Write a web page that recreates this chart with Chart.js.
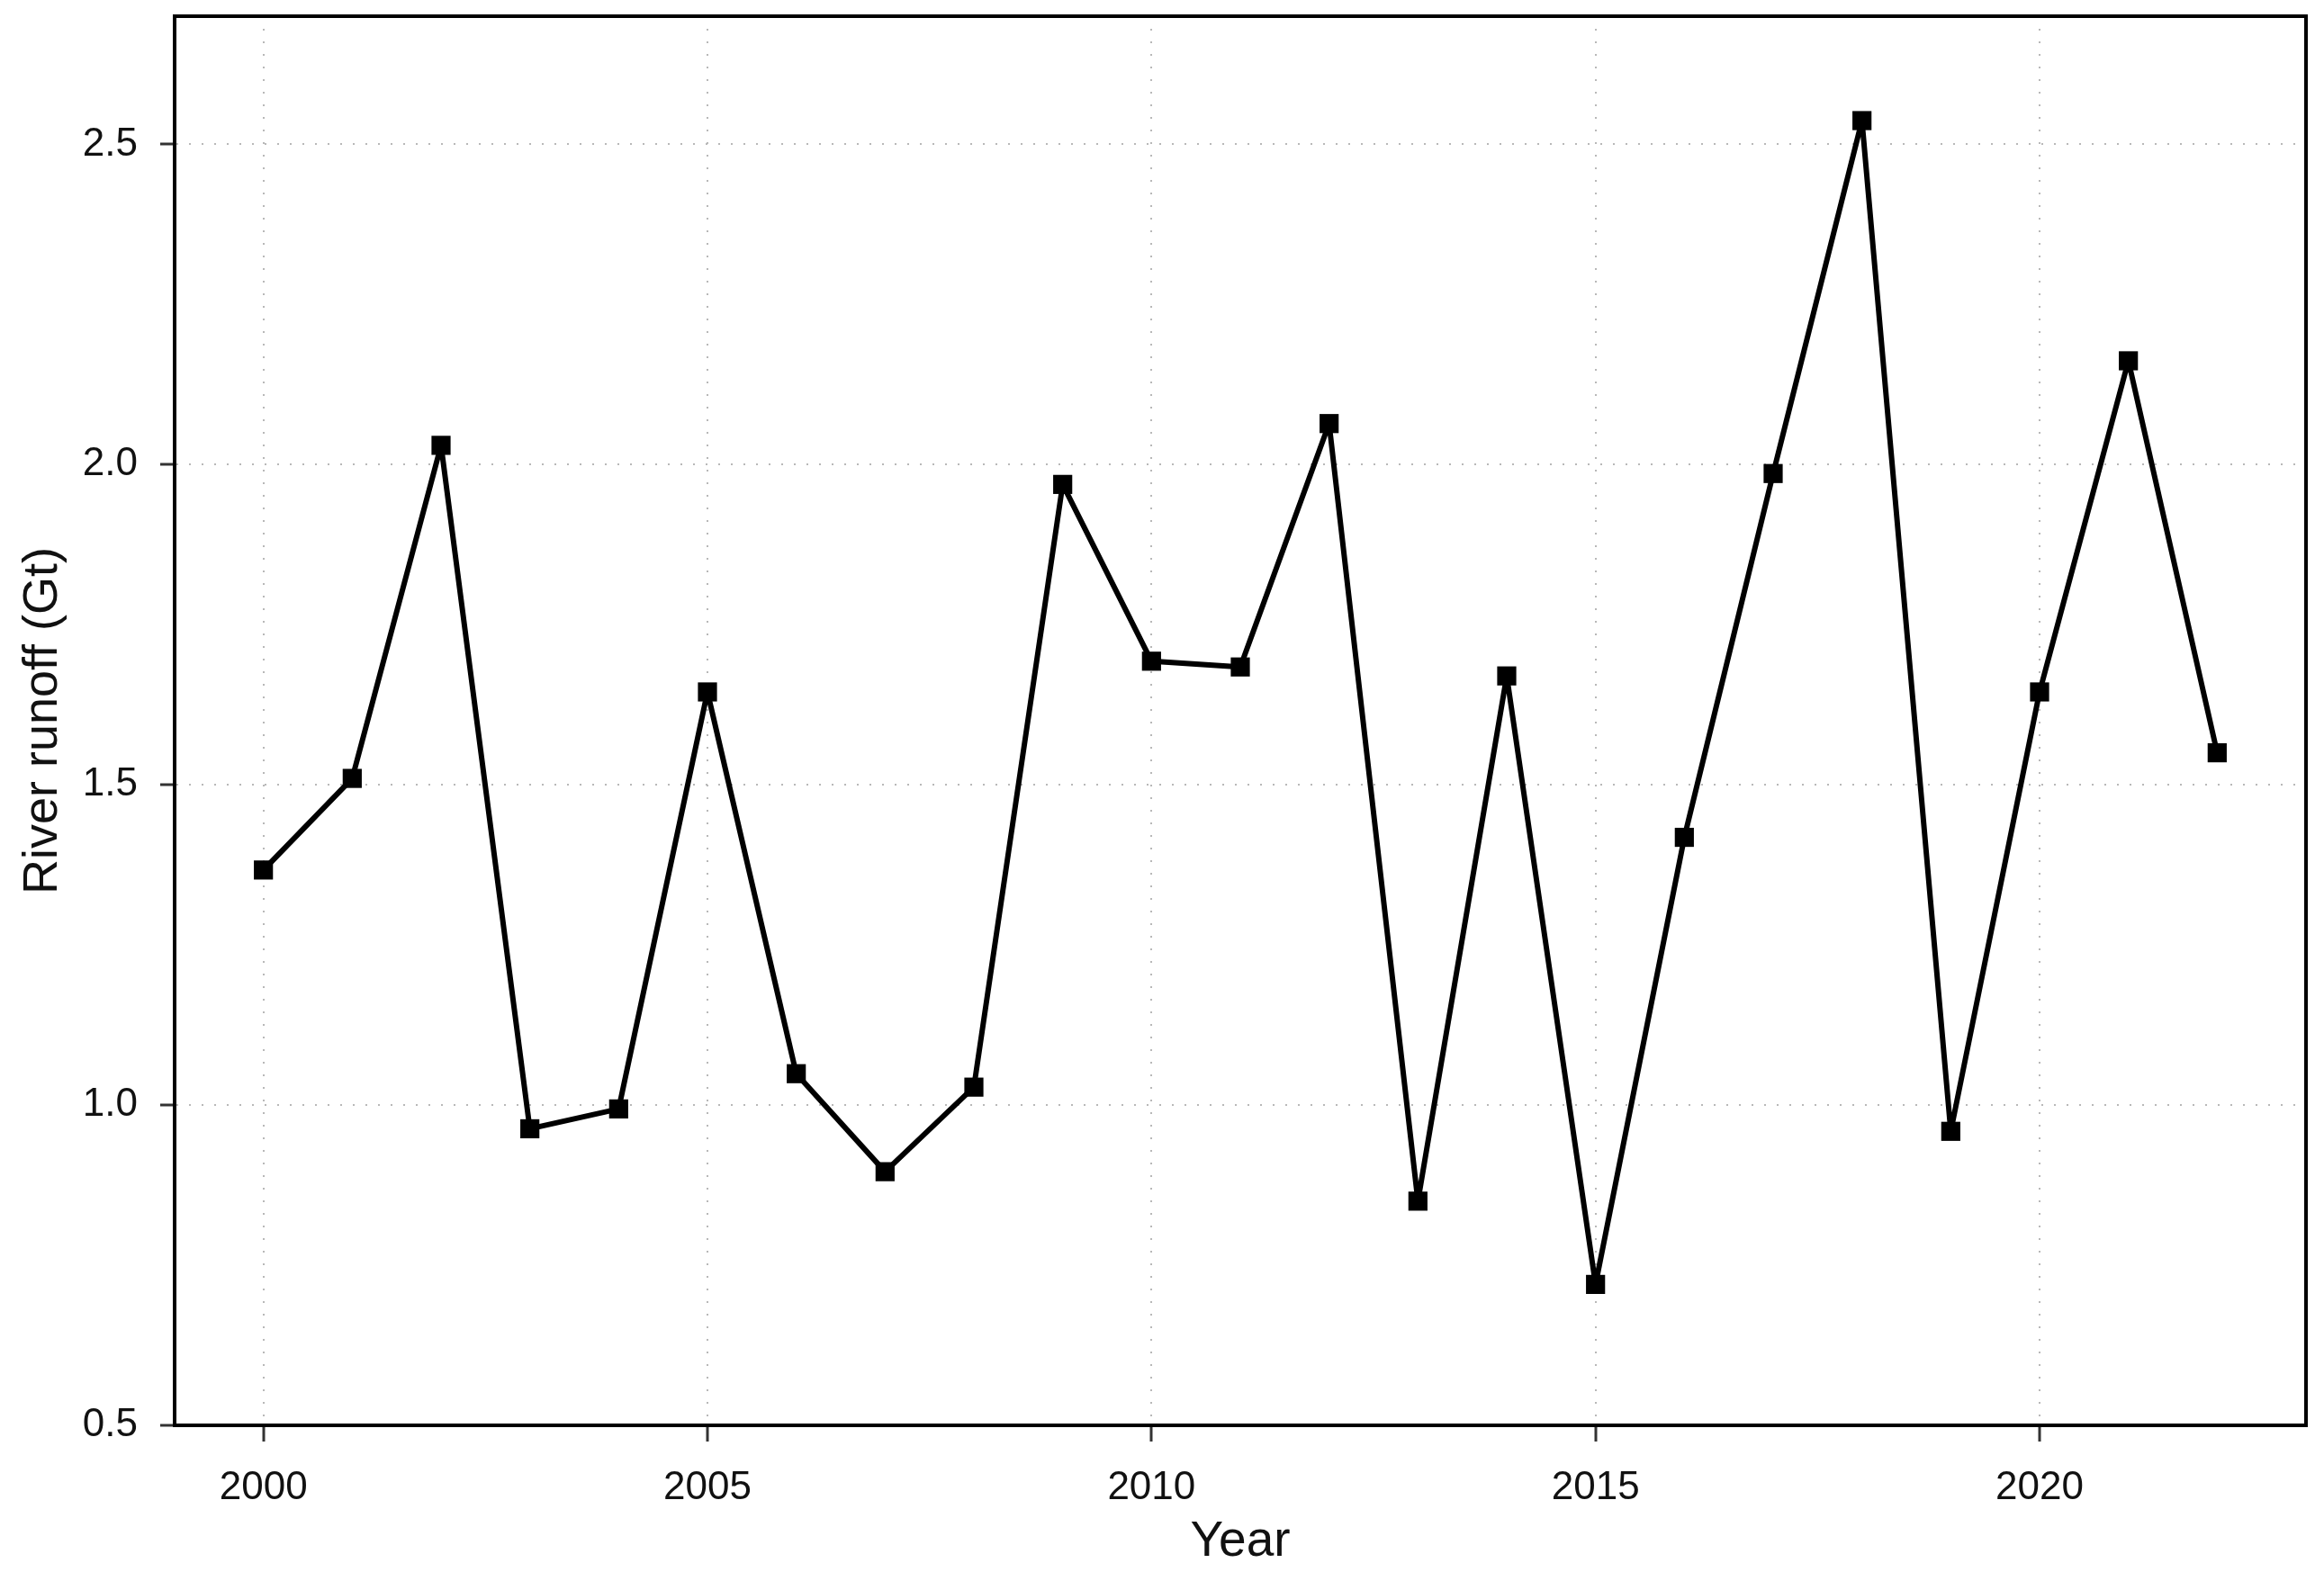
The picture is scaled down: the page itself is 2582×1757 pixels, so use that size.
<!DOCTYPE html>
<html>
<head>
<meta charset="utf-8">
<script src="https://cdn.jsdelivr.net/npm/chart.js@4/dist/chart.umd.min.js"></script>
<style>
  html, body { margin: 0; padding: 0; background: #fff; }
  #wrap { width: 2582px; height: 1757px; }
</style>
</head>
<body>
<div id="wrap"><canvas id="line-chart"></canvas></div>
<script>
// data
const years = [2000,2001,2002,2003,2004,2005,2006,2007,2008,2009,2010,2011,2012,2013,2014,2015,2016,2017,2018,2019,2020,2021,2022];
const runoff = [1.367,1.510,2.030,0.963,0.994,1.645,1.049,0.896,1.028,1.969,1.693,1.684,2.064,0.850,1.670,0.720,1.418,1.986,2.537,0.959,1.645,2.162,1.550];
const xTicks = [2000,2005,2010,2015,2020];
const yTicks = [0.5,1.0,1.5,2.0,2.5];

// box around the plot area
const frame = {
  id: 'frame',
  afterDraw(chart) {
    const a = chart.chartArea, ctx = chart.ctx;
    ctx.save();
    ctx.strokeStyle = '#000';
    ctx.lineWidth = 4;
    ctx.strokeRect(a.left, a.top, a.right - a.left, a.bottom - a.top);
    ctx.restore();
  }
};

const font = 'Liberation Sans';

new Chart(document.getElementById("line-chart"), {
  type: 'scatter',
  data: {
    datasets: [{
      data: years.map((y, i) => ({x: y, y: runoff[i]})),
      showLine: true,
      borderColor: '#000',
      backgroundColor: '#000',
      borderWidth: 6,
      borderJoinStyle: 'round',
      pointStyle: 'rect',
      pointRadius: 15,
      pointBorderWidth: 0
    }]
  },
  options: {
    responsive: true,
    maintainAspectRatio: false,
    animation: false,
    layout: { padding: { top: 18, right: 20, left: 0, bottom: 0 } },
    plugins: { legend: { display: false }, tooltip: { enabled: false } },
    scales: {
      x: {
        type: 'linear',
        min: 1999, max: 2023,
        afterBuildTicks: s => { s.ticks = xTicks.map(v => ({value: v})); },
        afterFit: s => { s.height = 173; s.paddingLeft = 0; s.paddingRight = 0; },
        ticks: { color: '#111', font: { family: font, size: 44 }, padding: 25, callback: v => String(v), maxRotation: 0 },
        grid: { color: '#b8b8b8', lineWidth: 2, tickLength: 18, tickColor: '#333', tickWidth: 3, tickBorderDash: [] },
        border: { display: true, color: '#000', width: 4, dash: [2, 12] },
        title: { display: true, text: 'Year', color: '#111', font: { family: font, size: 55 }, padding: { top: 0, bottom: 10 } }
      },
      y: {
        min: 0.5, max: 2.7,
        afterBuildTicks: s => { s.ticks = yTicks.map(v => ({value: v})); },
        afterFit: s => { s.width = 194; s.paddingTop = 0; s.paddingBottom = 0; },
        ticks: { color: '#111', font: { family: font, size: 44 }, padding: 25, callback: v => v.toFixed(1) },
        grid: { color: '#b8b8b8', lineWidth: 2, tickLength: 16, tickColor: '#333', tickWidth: 3, tickBorderDash: [] },
        border: { display: true, color: '#000', width: 4, dash: [2, 12] },
        title: { display: true, text: 'River runoff (Gt)', color: '#111', font: { family: font, size: 54 }, padding: { top: 16, bottom: 0 } }
      }
    }
  },
  plugins: [frame]
});
</script>
</body>
</html>
